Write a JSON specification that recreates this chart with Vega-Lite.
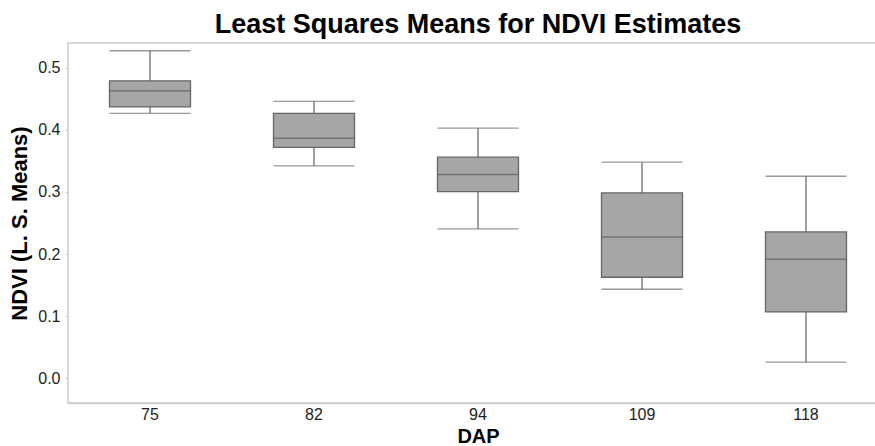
{
  "$schema": "https://vega.github.io/schema/vega-lite/v6.json",
  "autosize": "none",
  "width": 820,
  "height": 360,
  "padding": {"left": 68, "top": 43, "right": 0, "bottom": 43},
  "background": "white",
  "title": {
    "text": "Least Squares Means for NDVI Estimates",
    "font": "Liberation Sans",
    "fontSize": 27,
    "fontWeight": "bold",
    "color": "#000000",
    "anchor": "middle",
    "offset": 4
  },
  "config": {
    "view": {"stroke": "#cccccc", "strokeWidth": 1.5},
    "axis": {
      "labelFont": "Liberation Sans",
      "titleFont": "Liberation Sans",
      "labelFontSize": 16,
      "labelColor": "#222222",
      "titleFontSize": 20,
      "titleFontWeight": "bold",
      "titleColor": "#000000",
      "grid": false,
      "domainColor": "#cccccc",
      "domainWidth": 1.5,
      "tickColor": "#cccccc"
    }
  },
  "data": {
    "values": [
      {"DAP": "75", "lower": 0.4267, "q1": 0.437, "median": 0.463, "q3": 0.479, "upper": 0.5275},
      {"DAP": "82", "lower": 0.342, "q1": 0.372, "median": 0.3865, "q3": 0.4267, "upper": 0.446},
      {"DAP": "94", "lower": 0.2404, "q1": 0.3005, "median": 0.328, "q3": 0.356, "upper": 0.403},
      {"DAP": "109", "lower": 0.1433, "q1": 0.1626, "median": 0.2275, "q3": 0.2984, "upper": 0.348},
      {"DAP": "118", "lower": 0.0258, "q1": 0.1068, "median": 0.1916, "q3": 0.2356, "upper": 0.3253}
    ]
  },
  "encoding": {
    "x": {
      "field": "DAP",
      "type": "ordinal",
      "sort": ["75", "82", "94", "109", "118"],
      "scale": {"paddingInner": 0, "paddingOuter": 0},
      "axis": {"labelAngle": 0, "ticks": false, "labelPadding": 3, "title": "DAP", "titlePadding": 4, "domain": true}
    }
  },
  "layer": [
    {
      "mark": {"type": "rule", "color": "#6e6e6e", "strokeWidth": 1.3},
      "encoding": {
        "y": {
          "field": "lower",
          "type": "quantitative",
          "scale": {"domain": [-0.04, 0.54], "nice": false, "zero": false},
          "axis": {
            "title": "NDVI (L. S. Means)",
            "titleFontSize": 22,
            "values": [0, 0.1, 0.2, 0.3, 0.4, 0.5],
            "format": ".1f",
            "tickSize": 3,
            "labelPadding": 5,
            "titlePadding": 6,
            "domain": false
          }
        },
        "y2": {"field": "upper"}
      }
    },
    {
      "mark": {"type": "bar", "size": 81, "fill": "#a6a6a6", "stroke": "#666666", "strokeWidth": 1.3},
      "encoding": {
        "y": {"field": "q1", "type": "quantitative"},
        "y2": {"field": "q3"}
      }
    },
    {
      "mark": {"type": "tick", "size": 81, "thickness": 1.5, "color": "#5e5e5e", "orient": "horizontal"},
      "encoding": {"y": {"field": "median", "type": "quantitative"}}
    },
    {
      "mark": {"type": "tick", "size": 81, "thickness": 1.3, "color": "#6e6e6e", "orient": "horizontal"},
      "encoding": {"y": {"field": "lower", "type": "quantitative"}}
    },
    {
      "mark": {"type": "tick", "size": 81, "thickness": 1.3, "color": "#6e6e6e", "orient": "horizontal"},
      "encoding": {"y": {"field": "upper", "type": "quantitative"}}
    }
  ]
}
